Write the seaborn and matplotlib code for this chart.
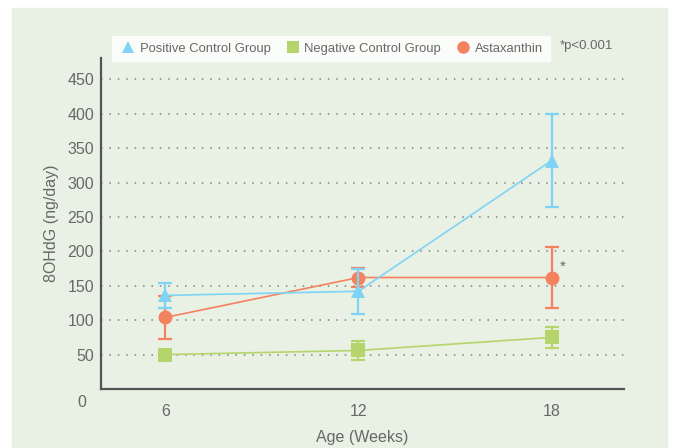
import numpy as np
import pandas as pd
import matplotlib
matplotlib.use("Agg")
import matplotlib.pyplot as plt
from matplotlib.patches import Rectangle
from matplotlib.lines import Line2D
import seaborn as sns

# ----- data -----
weeks = [6, 12, 18]
groups = ["Positive Control Group", "Negative Control Group", "Astaxanthin"]
positive_mean = [136, 142, 332]
positive_err = [18, 33, 68]
negative_mean = [50, 56, 75]
negative_err = [0, 14, 15]
astax_mean = [104, 162, 162]
astax_err = [31, 14, 44]
y_ticks = [50, 100, 150, 200, 250, 300, 350, 400, 450]

colors = {"Positive Control Group": "#7fd3f5",
          "Negative Control Group": "#b5d56c",
          "Astaxanthin": "#f4825f"}
markers = {"Positive Control Group": "^",
           "Negative Control Group": "s",
           "Astaxanthin": "o"}

df = pd.DataFrame({
    "week": weeks * 3,
    "value": positive_mean + negative_mean + astax_mean,
    "err": positive_err + negative_err + astax_err,
    "group": [g for g in groups for _ in weeks],
})

sns.set_style("white")
plt.rcParams["font.family"] = ["Liberation Sans", "DejaVu Sans"]
text_col = "#686868"

fig = plt.figure(figsize=(6.77, 4.48), dpi=100)
fig.patches.append(Rectangle((12 / 677, 0), 655 / 677, 1 - 8 / 448,
                             transform=fig.transFigure, color="#e8f1e4", zorder=-10))
ax = fig.add_axes([101 / 677, 1 - 389 / 448, 523 / 677, 331 / 448])
ax.set_facecolor("none")

zorders = {"Negative Control Group": 3, "Astaxanthin": 4, "Positive Control Group": 5}
for g in groups:
    d = df[df["group"] == g]
    ax.errorbar(d["week"], d["value"], yerr=d["err"], fmt="none",
                ecolor=colors[g], elinewidth=1.6, capsize=5, capthick=1.6,
                zorder=zorders[g])
    sns.lineplot(data=d, x="week", y="value", ax=ax, color=colors[g],
                 marker=markers[g], markersize=10, markeredgewidth=0,
                 linewidth=1.2, zorder=zorders[g], legend=False)

ax.set_xlim(4, 20.25)
ax.set_ylim(0, 481)
ax.set_xticks(weeks)
ax.set_yticks(y_ticks)
ax.grid(axis="y", linestyle=(0, (1, 4.5)), color="#808080", linewidth=1.1)
ax.grid(axis="x", visible=False)
ax.tick_params(axis="x", direction="out", length=5, width=1.8, color="#222222",
               labelsize=11.5, labelcolor=text_col, pad=6)
ax.tick_params(axis="y", length=0, labelsize=11.5, labelcolor=text_col, pad=5)
for s in ["top", "right"]:
    ax.spines[s].set_visible(False)
for s in ["left", "bottom"]:
    ax.spines[s].set_color("#555555")
    ax.spines[s].set_linewidth(1.6)

ax.text(-0.037, -0.042, "0", transform=ax.transAxes, ha="center", va="center",
        fontsize=11.5, color=text_col)
ax.set_xlabel("Age (Weeks)", fontsize=11.5, color=text_col, labelpad=8)
ax.set_ylabel("8OHdG (ng/day)", fontsize=11.5, color=text_col, labelpad=6)
ax.text(563 / 677, 1 - 267 / 448, "*", transform=fig.transFigure, fontsize=11,
        color=text_col, ha="center", va="center")

handles = [Line2D([], [], linestyle="none", marker=markers[g], color=colors[g],
                  markersize=9, markeredgewidth=0) for g in groups]
leg = fig.legend(handles, groups, loc="center", bbox_to_anchor=(331 / 677, 1 - 48.5 / 448),
                 ncol=3, frameon=True, fontsize=9.4, handletextpad=0.2, handlelength=1.4,
                 columnspacing=1.0, borderpad=0.5, fancybox=False)
leg.get_frame().set_facecolor("white")
leg.get_frame().set_edgecolor("white")
for t in leg.get_texts():
    t.set_color(text_col)
fig.text(560 / 677, 1 - 46 / 448, "*p<0.001", fontsize=9.5, color=text_col,
         ha="left", va="center")

fig.savefig("out.png", dpi=100)
